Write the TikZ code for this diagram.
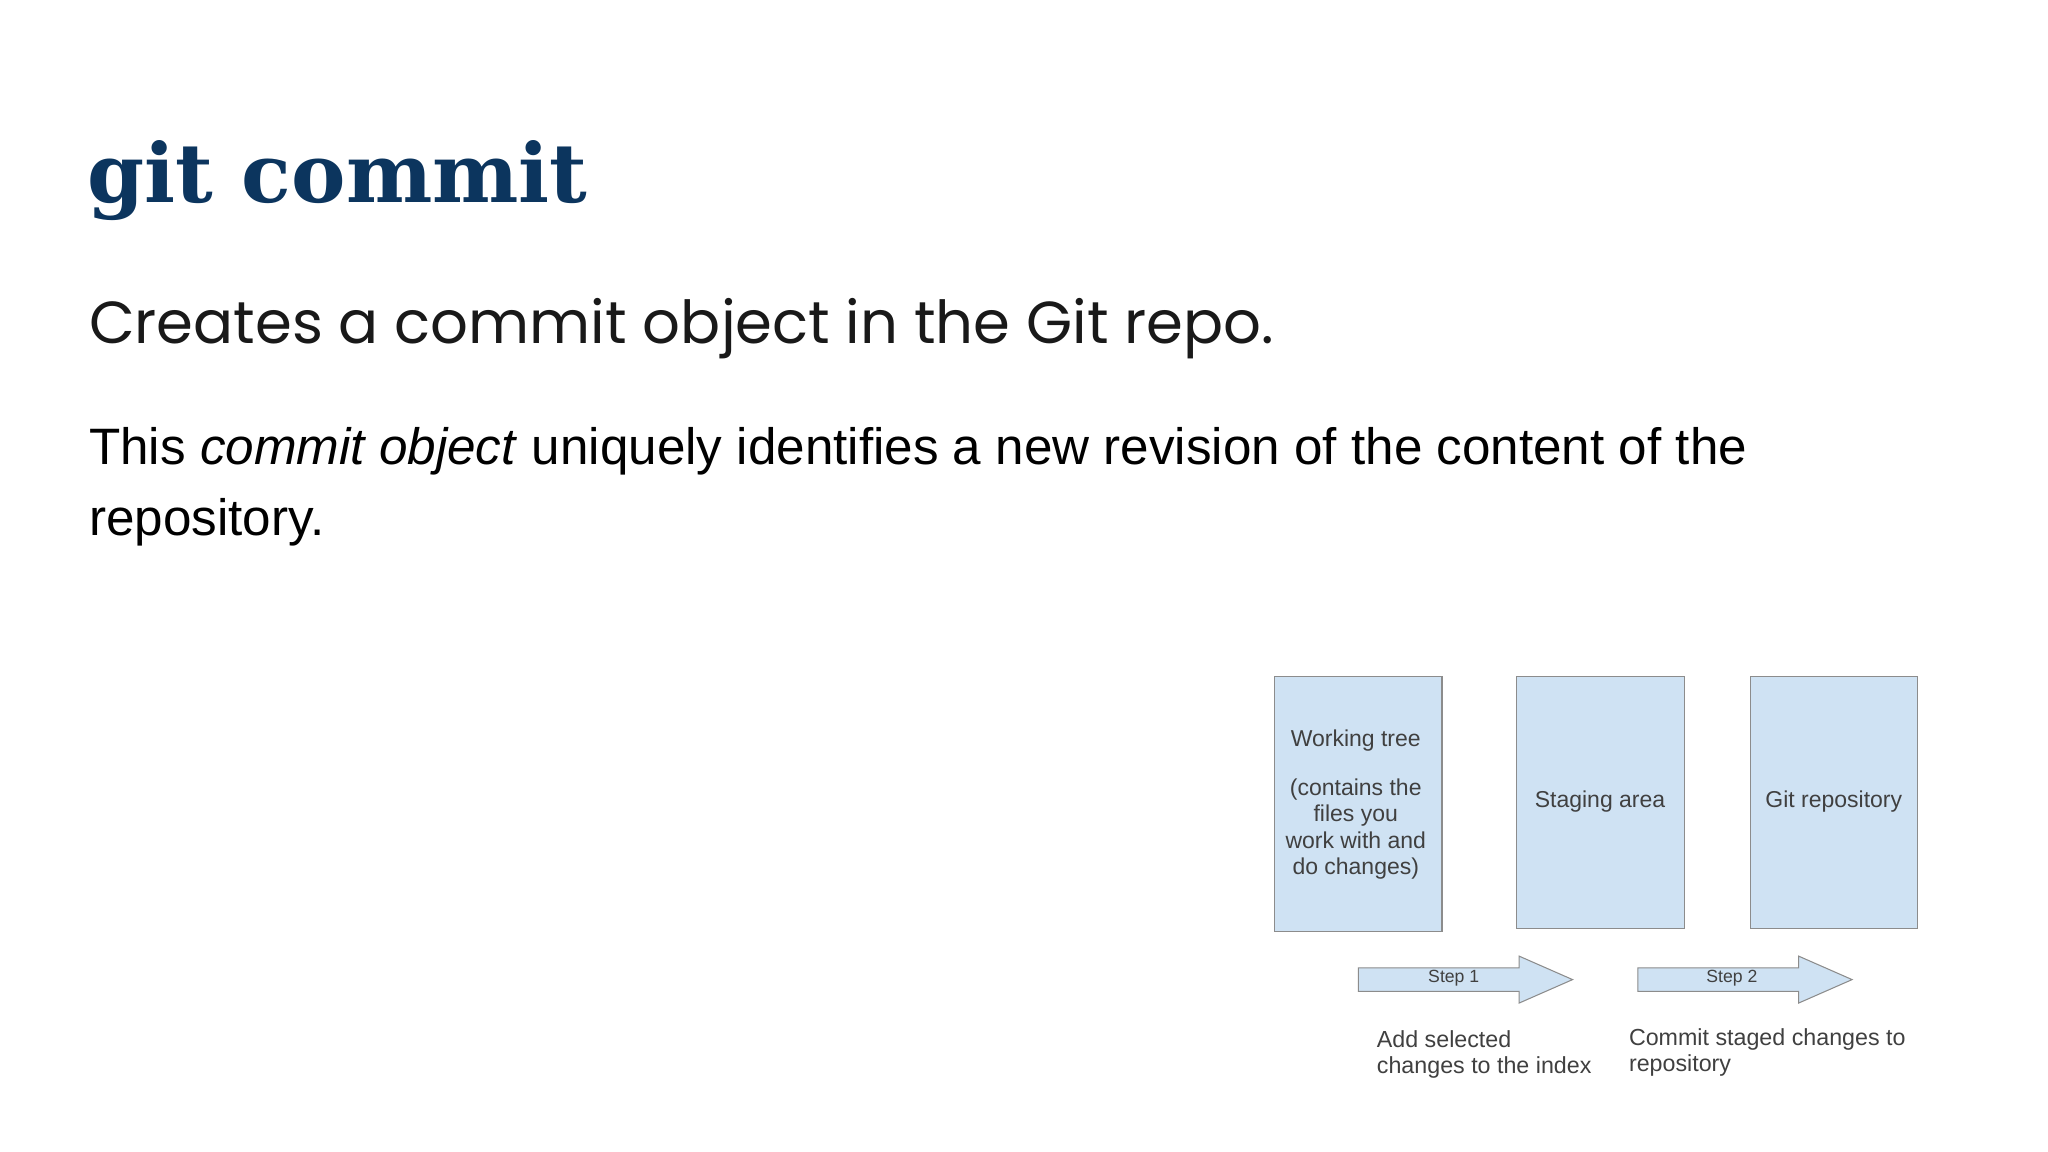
\documentclass[tikz,border=0pt]{standalone}
\usepackage{fontspec}
\setmainfont{Liberation Sans}
\newfontfamily\titlefont{DejaVu Serif}
\newfontfamily\subfont{Poppins}
\definecolor{boxfill}{HTML}{CFE2F3}
\begin{document}
\begin{tikzpicture}[x=1pt,y=-1pt,
  box/.style={draw=black!45,fill=boxfill,line width=0.8pt},
  blk/.style={draw=black!45,fill=boxfill,line width=0.8pt},
  lbl/.style={text=black!75,font=\fontsize{17.6}{20}\selectfont,align=center},
  captext/.style={text=black!75,font=\fontsize{17.8}{20}\selectfont,align=left,anchor=north west}]
\useasboundingbox[fill=white] (0,0) rectangle (1568,882);
\node[anchor=base west,inner sep=0,text={rgb,255:red,12;green,53;blue,94},font=\titlefont\bfseries\fontsize{62.5}{70}\selectfont] (title) at (67,155) {git commit};
\node[anchor=base west,inner sep=0,text=black!90,font=\subfont\fontsize{45.4}{50}\selectfont] (sub) at (68,263) {Creates a commit object in the Git repo.};
\node[anchor=base west,inner sep=0,text=black,align=left,font=\fontsize{39.2}{54}\selectfont] (body) at (68,410) {This \textit{commit object} uniquely identifies a new revision of the content of the\\repository.};
\node[box,minimum width=128,minimum height=195,inner sep=0] (wt) at (1040,615.5) {};
\node[box,minimum width=129,minimum height=193,inner sep=0] (sa) at (1225.5,614.5) {};
\node[box,minimum width=128,minimum height=193,inner sep=0] (gr) at (1404,614.5) {};
\node[lbl,anchor=north] (wtt) at (1038,555) {Working tree\\[18pt](contains the\\files you\\work with and\\do changes)};
\node[lbl] (sat) at (1225,614) {Staging area};
\node[lbl] (grt) at (1404,614) {Git repository};
\coordinate (a1) at (1040,741);
\coordinate (a2) at (1254,741);
\draw[blk] (a1) -- ++(123,0) -- ++(0,-9) -- ++(41,18) -- ++(-41,18) -- ++(0,-9) -- ++(-123,0) -- cycle;
\draw[blk] (a2) -- ++(123,0) -- ++(0,-9) -- ++(41,18) -- ++(-41,18) -- ++(0,-9) -- ++(-123,0) -- cycle;
\node[text=black!75,font=\fontsize{13.5}{15}\selectfont] (s1) at (1113,749) {Step 1};
\node[text=black!75,font=\fontsize{13.5}{15}\selectfont] (s2) at (1326,749) {Step 2};
\node[captext,inner sep=0] (c1) at (1054,789) {Add selected\\changes to the index};
\node[captext,inner sep=0] (c2) at (1247,787) {Commit staged changes to\\repository};
\end{tikzpicture}
\end{document}
